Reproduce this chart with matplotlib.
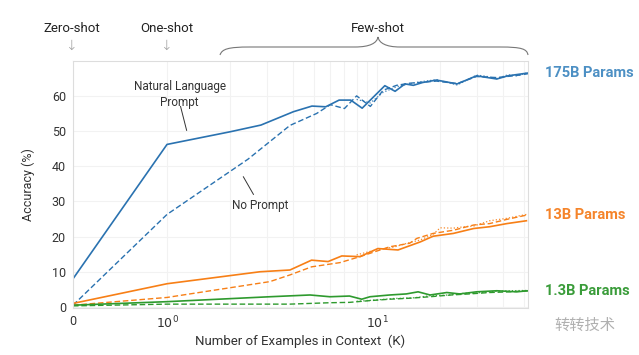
import matplotlib
matplotlib.use('Agg')
import matplotlib.pyplot as plt
from matplotlib.path import Path
from matplotlib.patches import PathPatch

plt.rcParams['font.family'] = ['Roboto', 'Noto Sans CJK SC', 'DejaVu Sans']

# 175B params
k_175_nl = [0, 1, 2, 2.8, 4, 4.9, 5.7, 6.6, 7.5, 8.5, 10.9, 12.2, 13.6, 14.9, 16.5, 19.2, 24.1, 29.8, 37.2, 42, 52.4]
acc_175_nl = [8, 46.2, 49.8, 51.7, 55.5, 57.1, 56.9, 58.8, 58.8, 56.5, 62.9, 61.3, 63.4, 63.0, 63.8, 64.5, 63.4, 65.7, 64.8, 65.7, 66.5]
k_175_np = [0, 1, 2.43, 3.85, 5.16, 6.0, 7.0, 8.0, 9.3, 10.7, 12.4, 14.3, 19.2, 24.1, 29.8, 37.2, 46.3, 52.4]
acc_175_np = [0.5, 26.3, 42, 51.6, 55, 57.5, 56.4, 60, 57, 61.6, 63, 63.6, 64.2, 63.5, 65.5, 65.2, 65.8, 66.3]
k_175_dot = [8, 9.3, 10.7, 12.4, 14.3, 16, 19.2, 24.1, 29.8, 33, 37.2, 42, 46.3, 52.4]
acc_175_dot = [59, 58, 61, 62.6, 63.4, 64, 64.6, 63.1, 65.9, 65.6, 64.9, 66, 65.7, 66.6]

# 13B params
k_13_nl = [0, 1, 2.77, 3.85, 4.88, 5.85, 6.8, 8.3, 10.1, 12.6, 16.1, 18.5, 23.1, 28.9, 34.4, 41.6, 51.5]
acc_13_nl = [1, 6.6, 10.0, 10.5, 13.3, 12.9, 14.5, 14.3, 16.6, 16.2, 18.5, 20.1, 20.9, 22.3, 22.8, 23.7, 24.5]
k_13_np = [0, 1, 3.09, 3.85, 4.88, 6.66, 8.3, 11.5, 14.3, 15.5, 18.5, 23.1, 28.9, 34.4, 41.6, 51.5]
acc_13_np = [0.5, 2.7, 7.2, 9.1, 11.4, 12.6, 14.3, 17.1, 18.1, 19.5, 20.9, 21.8, 23.3, 23.7, 24.9, 26.1]
k_13_dot = [8, 10, 12, 14.3, 16, 18.5, 20, 23.1, 26, 28.9, 34.4, 41.6, 51.5]
acc_13_dot = [14.8, 16.3, 17.0, 18.3, 19, 20.6, 22.5, 22.4, 22.8, 23.0, 24.5, 25.2, 26.3]

# 1.3B params
k_1_nl = [0, 1, 3.09, 4.8, 5.97, 7.4, 8.46, 9.26, 11.5, 13.8, 15.7, 17.9, 21.5, 24.8, 29.8, 37.2, 46.3, 52.4]
acc_1_nl = [0.5, 1.5, 2.9, 3.4, 2.9, 3.1, 2.2, 2.9, 3.4, 3.7, 4.3, 3.4, 4.1, 3.7, 4.3, 4.6, 4.3, 4.6]
k_1_np = [0, 1, 3.85, 5.97, 7.4, 9.26, 11.5, 14.5, 17.9, 22.5, 27.5, 34.4, 43, 52.4]
acc_1_np = [0.3, 0.8, 0.8, 1.2, 1.3, 1.8, 2.2, 2.5, 2.9, 3.4, 3.7, 4.1, 4.3, 4.6]
k_1_dot = [8, 10, 12, 15, 18, 22, 26, 30, 36, 42, 52.4]
acc_1_dot = [1.6, 2.0, 2.4, 2.6, 3.2, 3.4, 3.9, 4.0, 4.4, 4.6, 4.7]

model_labels = ['175B Params', '13B Params', '1.3B Params']
line_colors = ['#2a72b0', '#f77f16', '#2e9a2e']
label_colors = ['#4d90c4', '#f5842a', '#3a9c3a']

W, H = 639, 355
fig = plt.figure(figsize=(W / 100, H / 100), dpi=100)
ax = fig.add_axes([73 / W, 47 / H, 455 / W, 247.3 / H])
ax.set_xscale('symlog', linthresh=1, linscale=0.403)
ax.set_xlim(0, 52.4)
ax.set_ylim(-0.3, 70)

series = [
    (k_175_nl, acc_175_nl, k_175_np, acc_175_np, k_175_dot, acc_175_dot),
    (k_13_nl, acc_13_nl, k_13_np, acc_13_np, k_13_dot, acc_13_dot),
    (k_1_nl, acc_1_nl, k_1_np, acc_1_np, k_1_dot, acc_1_dot),
]
for (kn, an, kp, ap, kd, ad), c in zip(series, line_colors):
    ax.plot(kd, ad, color=c, lw=0.9, ls=':', alpha=0.9)
    ax.plot(kp, ap, color=c, lw=1.0, ls=(0, (4, 2)))
    ax.plot(kn, an, color=c, lw=1.2)

ax.set_xticks([0, 1, 10])
ax.set_xticklabels(['0', '$10^0$', '$10^1$'])
ax.set_xticks([2, 3, 4, 5, 6, 7, 8, 9, 20, 30, 40, 50], minor=True)
ax.set_yticks([0, 10, 20, 30, 40, 50, 60])
ax.tick_params(which='both', length=0, labelsize=9, colors='#333333', pad=5)
ax.grid(True, which='both', color='#f2f2f2', lw=0.8)
for s in ax.spines.values():
    s.set_color('#dddddd')
    s.set_linewidth(0.8)

ax.set_xlabel('Number of Examples in Context  (K)', fontsize=9.5, color='#333333', labelpad=2)
ax.set_ylabel('Accuracy (%)', fontsize=9, color='#333333', labelpad=12)

# end labels
for lab, ys, c in zip(model_labels, [acc_175_nl[-1], acc_13_np[-1], acc_1_nl[-1]], label_colors):
    ax.annotate(lab, xy=(1, ys), xycoords=('axes fraction', 'data'), xytext=(12, 0),
                textcoords='offset points', fontsize=10.5, fontweight='bold', color=c, va='center')

# annotations
ax.text(1.147, 60.4, 'Natural Language\nPrompt', fontsize=8.5, color='#333333', ha='center', va='center',
        linespacing=1.25)
ax.plot([1.16, 1.24], [57, 50.2], color='#333333', lw=0.7)
ax.text(2.77, 28.9, 'No Prompt', fontsize=8.5, color='#333333', ha='center', va='center')
ax.plot([2.31, 2.58], [37, 32], color='#333333', lw=0.7)

# header
def fx(px):
    return px / W

def fy(py):
    return 1 - py / H

hdr = dict(fontsize=9.5, color='#222222', ha='center', va='center')
fig.text(fx(72), fy(28), 'Zero-shot', **hdr)
fig.text(fx(167), fy(28), 'One-shot', **hdr)
fig.text(fx(378), fy(28), 'Few-shot', **hdr)
for px in [72, 167]:
    fig.text(fx(px), fy(46), '↓', fontsize=10, color='#999999', ha='center', va='center',
             family=['DejaVu Sans'], fontweight='light')

# curly brace
pts = [(220, 55), (222, 49), (228, 47), (250, 47),
       (355, 47), (370, 47), (377, 43), (378, 37),
       (379, 43), (386, 47), (400, 47),
       (500, 47), (522, 47), (527, 49), (528, 55)]
codes = [Path.MOVETO, Path.CURVE4, Path.CURVE4, Path.CURVE4,
         Path.LINETO, Path.CURVE4, Path.CURVE4, Path.CURVE4,
         Path.CURVE4, Path.CURVE4, Path.CURVE4,
         Path.LINETO, Path.CURVE4, Path.CURVE4, Path.CURVE4]
brace = Path([(fx(x), fy(y)) for x, y in pts], codes)
fig.add_artist(PathPatch(brace, fill=False, edgecolor='#777777', lw=0.8, transform=fig.transFigure))

# watermark
fig.text(fx(585), fy(325), '转转技术', fontsize=11, color='#b0b0b0', ha='center', va='center',
         family=['Noto Sans CJK SC', 'DejaVu Sans'])

fig.savefig('out.png', dpi=100)
